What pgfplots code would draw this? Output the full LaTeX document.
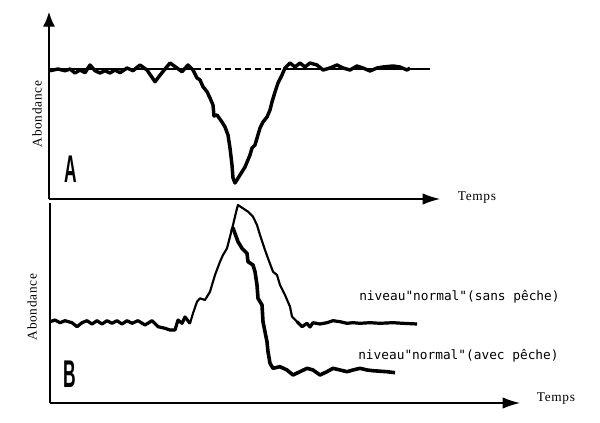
\documentclass[border=0pt]{standalone}
\usepackage{pgfplots}
\pgfplotsset{compat=1.18}
\usepackage{graphicx}
\usetikzlibrary{arrows.meta}
\usepackage{fontspec}
\setmainfont{Liberation Serif}
\newfontfamily\labfont[LetterSpace=5]{Liberation Serif}
\newfontfamily\typfont{DejaVu Sans Mono}
\newfontfamily\bigfont{Liberation Sans}
\begin{document}
\begin{tikzpicture}[x=1pt,y=1pt]
\useasboundingbox (0,0) rectangle (450,316.5);
% ---------------- Panel A ----------------
\begin{axis}[at={(36.75pt,167.25pt)}, anchor=origin, scale only axis,
  width=293.25pt, height=140.25pt, xmin=0, xmax=391, ymin=0, ymax=187,
  axis lines=left, ticks=none, clip=false,
  axis line style={line width=0.9pt},
  x axis line style={-{Latex[length=13pt,width=8.5pt]}},
  y axis line style={-{Latex[length=11pt,width=9pt]}}]
\addplot[line width=0.9pt] coordinates {(0,130) (146,130)};
\addplot[line width=0.9pt, dash pattern=on 4.5pt off 3pt] coordinates {(146,130) (241,130)};
\addplot[line width=0.9pt] coordinates {(241,130) (381,130)};
\addplot[line width=2.6pt, line join=round] coordinates {
(1,128.3) (9,130) (16,128.3) (21,130) (26,126) (31,129) (36,126.3) (41,134)
(46,128.3) (51,126) (56,128.3) (61,126) (66,129) (71,126.3) (78,131) (84,128.3)
(91,134) (98,129) (106,117.3) (113,126.3) (121,136) (128,131) (133,127.3) (139,134)
(144,129) (148,121) (151,119) (154,112.3) (158,107.3) (161,101) (164,94) (165,83)
(168,84) (173,77) (176,72) (179,64) (181,51) (183,34) (184,21) (186,16)
(191,24) (196,32) (201,44) (203,51) (206,54) (211,71) (214,77) (218,82)
(221,89) (223,97) (226,107) (229,116) (233,124) (236,131) (241,136) (246,132)
(251,136) (256,132) (261,136) (268,134) (274,129) (281,131) (288,134) (294,131)
(301,129) (308,133) (314,131) (321,128) (328,131) (334,132) (344,133) (351,132)
(358,129) (361,131)};
\node[rotate=90, font=\labfont\fontsize{10}{12}\selectfont] at (axis cs:-12,85) {Abondance};
\node[font=\labfont\fontsize{10}{12}\selectfont] at (axis cs:428,1) {Temps};
\node[font=\bigfont\bfseries\fontsize{29}{29}\selectfont] at (axis cs:22,30) {\scalebox{0.45}[1]{A}};
\end{axis}
% ---------------- Panel B ----------------
\begin{axis}[at={(37.5pt,14.25pt)}, anchor=origin, scale only axis,
  width=352.5pt, height=150pt, xmin=0, xmax=470, ymin=0, ymax=200,
  axis lines=left, ticks=none, clip=false,
  axis line style={line width=0.9pt},
  x axis line style={-{Latex[length=13pt,width=8.5pt]}},
  y axis line style={-}]
% sans peche (full curve)
\addplot[line width=1.6pt, line join=round] coordinates {
(0,81.3) (5,83) (10,80.3) (15,82.3) (22,80.3) (27,76.3) (32,80.3) (37,82.3)
(42,79) (47,82.3) (52,79) (57,82.3) (62,79.7) (67,82.3) (72,79) (77,82.3)
(82,79.7) (88,82.3) (95,78) (102,82.3) (108,76.3) (115,74.7) (120,73) (125,73)
(128,83) (132,79.7) (135,86) (140,79.7) (143,89.7) (147,101.3) (150,104.7) (155,103)
(160,111.3) (165,128) (170,141.3) (173,148) (177,154.7) (180,166.3) (183,178) (187,194.7)
(188,198) (193,194.7) (198,191.3) (203,186.3) (207,178) (210,168) (215,153) (218,144.7)
(223,131.3) (227,128) (230,118) (235,108) (240,96.3) (242,86.3) (247,81.3) (252,76.3)
(257,79.7) (260,76) (263,80.3) (270,79) (277,80.3) (283,82.3) (290,81.3) (297,79.7)
(303,80.3) (310,79.7) (320,80.3) (330,79.7) (343,80.3) (353,79.7) (367,79)};
% thick overlays: common baseline and tail of the sans peche curve
\addplot[line width=2.4pt, line join=round] coordinates {
(0,81.3) (5,83) (10,80.3) (15,82.3) (22,80.3) (27,76.3) (32,80.3) (37,82.3)
(42,79) (47,82.3) (52,79) (57,82.3) (62,79.7) (67,82.3) (72,79) (77,82.3)
(82,79.7) (88,82.3) (95,78) (102,82.3) (108,76.3) (115,74.7) (120,73) (125,73)
(128,83) (132,79.7) (135,86) (140,79.7)};
\addplot[line width=2.4pt, line join=round] coordinates {
(247,81.3) (252,76.3) (257,79.7) (260,76) (263,80.3) (270,79) (277,80.3) (283,82.3)
(290,81.3) (297,79.7) (303,80.3) (310,79.7) (320,80.3) (330,79.7) (343,80.3) (353,79.7) (367,79)};
% avec peche (thick descent)
\addplot[line width=2.7pt, line join=round] coordinates {
(182,172) (183,175) (188,161.3) (192,154.7) (197,149.7) (198,141.3) (203,138) (205,131.3)
(207,118) (208,104.7) (212,98) (213,81.3) (217,61.3) (218,51.3) (220,39.7) (223,34.7)
(230,36.3) (237,33) (243,28) (250,31.3) (257,34.7) (263,33) (270,28) (277,31.3)
(283,34.7) (290,33) (297,31.3) (303,33) (310,34.7) (317,33) (323,32.3) (337,31.3) (345,30.3)};
\node[rotate=90, font=\labfont\fontsize{10}{12}\selectfont] at (axis cs:-18,96) {Abondance};
\node[font=\labfont\fontsize{10}{12}\selectfont] at (axis cs:506,4) {Temps};
\node[font=\bigfont\bfseries\fontsize{29}{29}\selectfont] at (axis cs:20,29) {\scalebox{0.45}[1]{B}};
\node[anchor=west, inner sep=0pt, font=\typfont\fontsize{9.6}{11}\selectfont] at (axis cs:309,106) {niveau"normal"(sans pêche)};
\node[anchor=west, inner sep=0pt, font=\typfont\fontsize{9.6}{11}\selectfont] at (axis cs:308,47) {niveau"normal"(avec pêche)};
\end{axis}
\end{tikzpicture}
\end{document}
